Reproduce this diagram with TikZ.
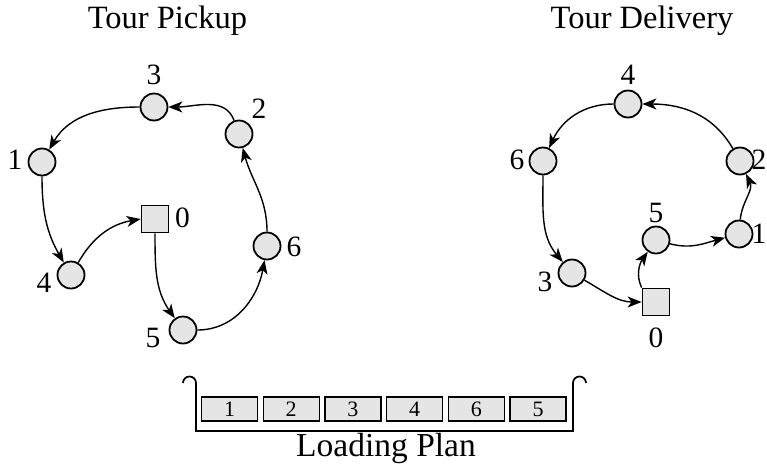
\documentclass[tikz,border=0pt]{standalone}
\usepackage{fontspec}
\setmainfont{Liberation Serif}
\usetikzlibrary{arrows.meta}
\definecolor{nodefill}{RGB}{229,229,229}
\begin{document}
\begin{tikzpicture}[x=1pt,y=-1pt,
  stop/.style={circle,draw,fill=nodefill,line width=1.8pt,minimum size=27pt,inner sep=0pt},
  depot/.style={rectangle,draw,fill=nodefill,line width=1.8pt,minimum size=27pt,inner sep=0pt},
  lbl/.style={inner sep=0pt,font=\fontsize{29.5}{31}\selectfont},
  title/.style={inner sep=0pt,anchor=base,font=\fontsize{32.5}{35}\selectfont},
  tour/.style={-{Stealth[length=14pt,width=11pt,inset=4pt]},line width=1.4pt},
  slot/.style={rectangle,draw,fill=nodefill,line width=1.2pt,minimum width=56pt,minimum height=24pt,inner sep=0pt,font=\fontsize{22}{24}\selectfont},
  bin/.style={line width=1.7pt}]
\useasboundingbox (0,0) rectangle (767,469);

% ---- pickup tour ----
\node[title] (tp) at (167.5,28.5) {Tour Pickup};
\node[depot] (p0) at (155,219) {};
\node[stop] (p1) at (42,162) {};
\node[stop] (p2) at (239,134) {};
\node[stop] (p3) at (154,107) {};
\node[stop] (p4) at (71,275) {};
\node[stop] (p5) at (183,330) {};
\node[stop] (p6) at (267,246) {};
\node[lbl] (lp0) at (182.5,217.5) {0};
\node[lbl] (lp1) at (15,160) {1};
\node[lbl] (lp2) at (259,109) {2};
\node[lbl] (lp3) at (154,75) {3};
\node[lbl] (lp4) at (44,283) {4};
\node[lbl] (lp5) at (153,338) {5};
\node[lbl] (lp6) at (294,247) {6};

\draw[tour] (p0.south) to[out=-90,in=125] (p5);
\draw[tour] (p5) to[out=0,in=-100] (p6);
\draw[tour] (p6) to[out=90,in=-75] (p2);
\draw[tour] (p2) to[out=110,in=0] (p3);
\draw[tour] (p3) to[out=180,in=60] (p1);
\draw[tour] (p1) to[out=-90,in=120] (p4);
\draw[tour] (p4) to[out=60,in=190] (p0.west);

% ---- delivery tour ----
\node[title] (td) at (642,28.5) {Tour Delivery};
\node[depot] (d0) at (656,302) {};
\node[stop] (d1) at (739,234) {};
\node[stop] (d2) at (740,161) {};
\node[stop] (d3) at (572,273) {};
\node[stop] (d4) at (628,104) {};
\node[stop] (d5) at (656,240) {};
\node[stop] (d6) at (543,161) {};
\node[lbl] (ld0) at (656,338) {0};
\node[lbl] (ld1) at (759,234) {1};
\node[lbl] (ld2) at (759,160) {2};
\node[lbl] (ld3) at (545,282) {3};
\node[lbl] (ld4) at (628,75) {4};
\node[lbl] (ld5) at (656,213) {5};
\node[lbl] (ld6) at (517,160) {6};

\draw[tour] (d0.north west) to[out=115,in=-125] (d5);
\draw[tour] (d5) to[out=-15,in=195] (d1);
\draw[tour] (d1) to[out=85,in=-65] (d2);
\draw[tour] (d2) to[out=120,in=0] (d4);
\draw[tour] (d4) to[out=180,in=65] (d6);
\draw[tour] (d6) to[out=-90,in=130] (d3);
\draw[tour] (d3) to[out=-30,in=180] (d0.west);

% ---- loading plan ----
\coordinate (bl) at (196,383);
\coordinate (br) at (573,383);
\draw[bin] (183,383) arc[start angle=180,end angle=0,radius=6.5pt]
  -- (196,431) -- (573,431) -- (br)
  arc[start angle=180,end angle=0,radius=6.5pt];
\node[slot] (s1) at (229.5,409) {1};
\node[slot] (s2) at (291.2,409) {2};
\node[slot] (s3) at (352.9,409) {3};
\node[slot] (s4) at (414.6,409) {4};
\node[slot] (s5) at (476.3,409) {6};
\node[slot] (s6) at (538,409) {5};
\node[title,font=\fontsize{33.5}{35}\selectfont] (lpl) at (386,456.5) {Loading Plan};
\end{tikzpicture}
\end{document}
